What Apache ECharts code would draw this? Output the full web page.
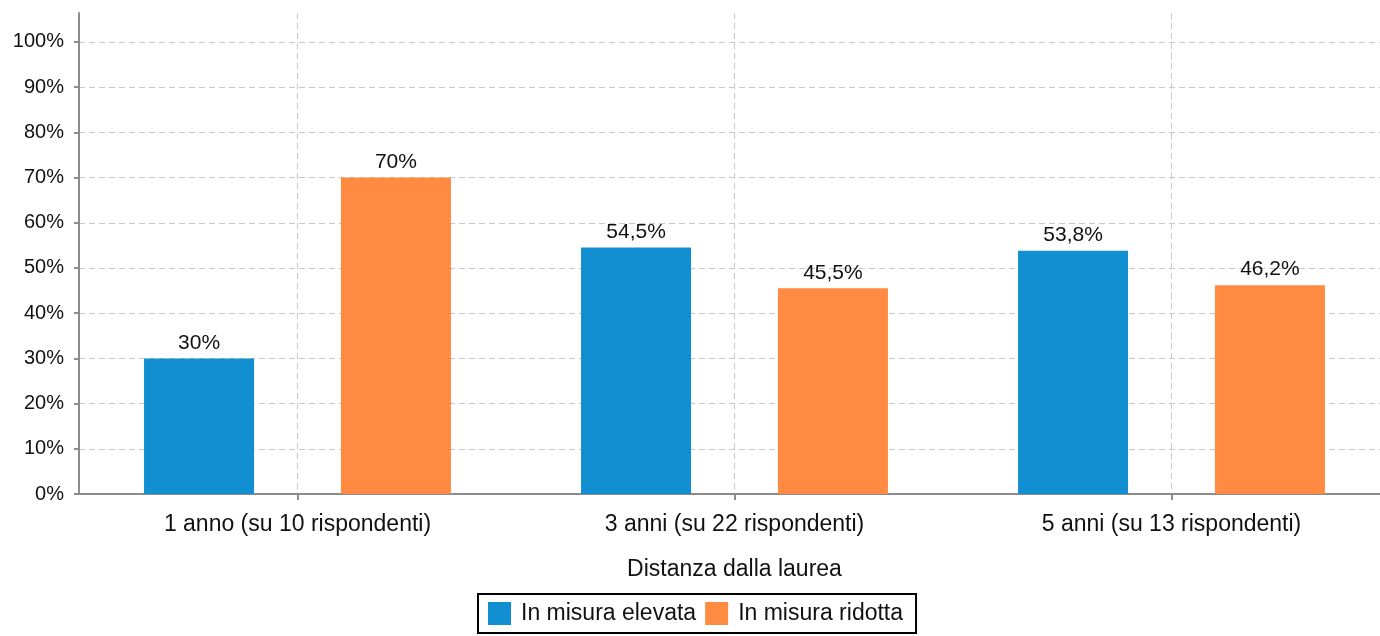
<!DOCTYPE html>
<html>
<head>
<meta charset="utf-8">
<script src="https://cdn.jsdelivr.net/npm/echarts@6/dist/echarts.min.js"></script>
<style>
html,body{margin:0;padding:0;background:#fff;}
#chart{width:1380px;height:636px;}
</style>
</head>
<body>
<div id="chart"></div>
<script>
const categories = ['1 anno (su 10 rispondenti)', '3 anni (su 22 rispondenti)', '5 anni (su 13 rispondenti)'];
const seriesNames = ['In misura elevata', 'In misura ridotta'];
const elevata = [30, 54.5, 53.8];
const ridotta = [70, 45.5, 46.2];
const yTicks = [0, 10, 20, 30, 40, 50, 60, 70, 80, 90, 100];
const axisTitle = 'Distanza dalla laurea';

const FONT = '"Liberation Sans", Arial, sans-serif';
const fmt = v => String(v).replace('.', ',') + '%';

const chart = echarts.init(document.getElementById('chart'), null, {renderer: 'canvas'});
chart.setOption({
  animation: false,
  textStyle: {fontFamily: FONT},
  grid: {left: 79, width: 1311, top: 13, bottom: 142, containLabel: false, outerBoundsMode: 'none'},
  legend: {
    data: seriesNames,
    left: 478, top: 594,
    padding: [8, 13, 8, 10],
    itemGap: 9,
    itemWidth: 33, itemHeight: 23,
    icon: 'path://M0,0h10v10h-10z',
    borderColor: '#000', borderWidth: 2,
    selectedMode: false,
    textStyle: {fontFamily: FONT, fontSize: 23, color: '#111'}
  },
  xAxis: {
    type: 'category',
    data: categories,
    name: axisTitle,
    nameLocation: 'middle',
    nameGap: 64,
    nameTextStyle: {fontFamily: FONT, fontSize: 23, color: '#111'},
    axisLine: {lineStyle: {color: '#8c8c8c', width: 2}},
    axisTick: {show: true, alignWithLabel: true, length: 6, lineStyle: {color: '#8c8c8c', width: 2}},
    axisLabel: {fontFamily: FONT, fontSize: 23, color: '#111', margin: 19},
    splitLine: {show: true, alignWithLabel: true, lineStyle: {color: '#c8c8c8', type: [6, 4], width: 1}}
  },
  yAxis: {
    type: 'value',
    min: 0, max: 106.4, interval: 10,
    axisLine: {show: true, lineStyle: {color: '#8c8c8c', width: 2}},
    axisTick: {show: true, length: 5, customValues: yTicks, lineStyle: {color: '#8c8c8c', width: 2}},
    axisLabel: {fontFamily: FONT, fontSize: 20, color: '#111', margin: 15, padding: [4, 0, 0, 0],
      customValues: yTicks, formatter: v => v + '%'},
    splitLine: {show: true, showMinLine: false, lineStyle: {color: '#c8c8c8', type: [6, 4], width: 1}}
  },
  series: [
    {
      name: seriesNames[0], type: 'bar', data: elevata,
      barWidth: 110, barGap: '79%',
      itemStyle: {color: '#118fd1'},
      label: {show: true, position: 'top', distance: 5, fontFamily: FONT, fontSize: 21, color: '#111', formatter: p => fmt(p.value)}
    },
    {
      name: seriesNames[1], type: 'bar', data: ridotta,
      barWidth: 110, barGap: '79%',
      itemStyle: {color: '#ff8b42'},
      label: {show: true, position: 'top', distance: 5, fontFamily: FONT, fontSize: 21, color: '#111', formatter: p => fmt(p.value)}
    }
  ]
});
</script>
</body>
</html>
